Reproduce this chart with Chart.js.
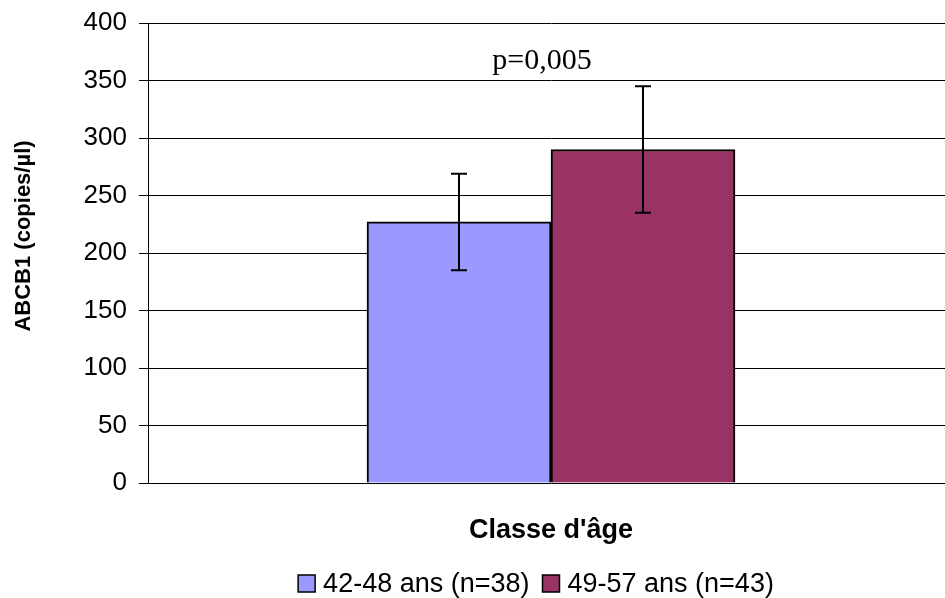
<!DOCTYPE html>
<html>
<head>
<meta charset="utf-8">
<script src="https://cdn.jsdelivr.net/npm/chart.js@4/dist/chart.umd.min.js"></script>
<style>
  html, body { margin: 0; padding: 0; overflow: hidden; background: #fff; }
  canvas { display: block; }
</style>
</head>
<body>
<canvas id="chart" width="954" height="598"></canvas>
<script>
// data
const categories = [''];
const seriesLabels = ['42-48 ans (n=38)', '49-57 ans (n=43)'];
const seriesValues = [[227], [290]];
const seriesErrors = [[42], [55]];
const seriesColors = ['#9999FF', '#993366'];
const yTickValues = [0, 50, 100, 150, 200, 250, 300, 350, 400];
const pValueText = 'p=0,005';
const pValueLevel = 360;
const xTitleText = "Classe d'âge";
const yTitleText = 'ABCB1 (copies/µl)';

const SANS = "'Liberation Sans', Arial, sans-serif";
const SERIF = "'Liberation Serif', 'Times New Roman', serif";

const extras = {
  id: 'extras',
  afterDatasetsDraw: chart => {
    const ctx = chart.ctx;
    const yAxis = chart.scales['y'];
    ctx.save();
    ctx.strokeStyle = '#000';
    ctx.lineWidth = 2;
    seriesValues.forEach((vals, i) => {
      const meta = chart.getDatasetMeta(i);
      vals.forEach((v, j) => {
        const x = Math.round(meta.data[j].x);
        const top = yAxis.getPixelForValue(v + seriesErrors[i][j]);
        const bottom = yAxis.getPixelForValue(v - seriesErrors[i][j]);
        ctx.beginPath();
        ctx.moveTo(x, top);
        ctx.lineTo(x, bottom);
        ctx.moveTo(x - 8, top);
        ctx.lineTo(x + 8, top);
        ctx.moveTo(x - 8, bottom);
        ctx.lineTo(x + 8, bottom);
        ctx.stroke();
      });
    });
    ctx.restore();
  },
  afterDraw: chart => {
    const ctx = chart.ctx;
    const area = chart.chartArea;
    const yAxis = chart.scales['y'];
    const midX = (area.left + area.right) / 2;
    ctx.save();
    ctx.fillStyle = '#000';

    // p value
    ctx.font = '30px ' + SERIF;
    ctx.textAlign = 'center';
    ctx.textBaseline = 'alphabetic';
    ctx.fillText(pValueText, midX - 9, yAxis.getPixelForValue(pValueLevel));

    // x title
    ctx.font = 'bold 27px ' + SANS;
    ctx.fillText(xTitleText, midX, 538);

    // y title
    ctx.save();
    ctx.translate(30, 236);
    ctx.rotate(-Math.PI / 2);
    ctx.font = 'bold 22px ' + SANS;
    ctx.textAlign = 'center';
    ctx.fillText(yTitleText, 0, 0);
    ctx.restore();

    // legend
    ctx.font = '27px ' + SANS;
    ctx.textAlign = 'left';
    const box = 17, gapText = 8, gapItem = 13;
    const widths = seriesLabels.map(t => ctx.measureText(t).width);
    let total = 0;
    widths.forEach((w, i) => { total += box + gapText + w + (i ? gapItem : 0); });
    let x = 536 - total / 2;
    seriesLabels.forEach((label, i) => {
      ctx.fillStyle = seriesColors[i];
      ctx.fillRect(x, 575, box, box);
      ctx.strokeStyle = '#000';
      ctx.lineWidth = 1.5;
      ctx.strokeRect(x, 575, box, box);
      ctx.fillStyle = '#000';
      ctx.fillText(label, x + box + gapText, 592);
      x += box + gapText + widths[i] + gapItem;
    });
    ctx.restore();
  }
};

new Chart(document.getElementById('chart'), {
  type: 'bar',
  plugins: [extras],
  data: {
    labels: categories,
    datasets: seriesLabels.map((label, i) => ({
      label: label,
      data: seriesValues[i],
      backgroundColor: seriesColors[i],
      borderColor: '#000',
      borderWidth: 2,
      barThickness: 184
    }))
  },
  options: {
    responsive: false,
    animation: false,
    layout: { padding: { left: 0, top: 23, right: 0, bottom: 115 } },
    plugins: {
      legend: { display: false },
      tooltip: { enabled: false }
    },
    scales: {
      x: { display: false },
      y: {
        min: 0,
        max: 400,
        afterFit: scale => {
          scale.width = 148;
          scale.paddingTop = 0;
          scale.paddingBottom = 0;
        },
        afterBuildTicks: scale => { scale.ticks = yTickValues.map(v => ({ value: v })); },
        grid: { color: '#000', lineWidth: 1, tickLength: 9, drawTicks: true },
        border: { display: true, color: '#000', width: 1 },
        ticks: {
          color: '#000',
          padding: 12,
          font: { family: SANS, size: 26 }
        }
      }
    }
  }
});
</script>
</body>
</html>
